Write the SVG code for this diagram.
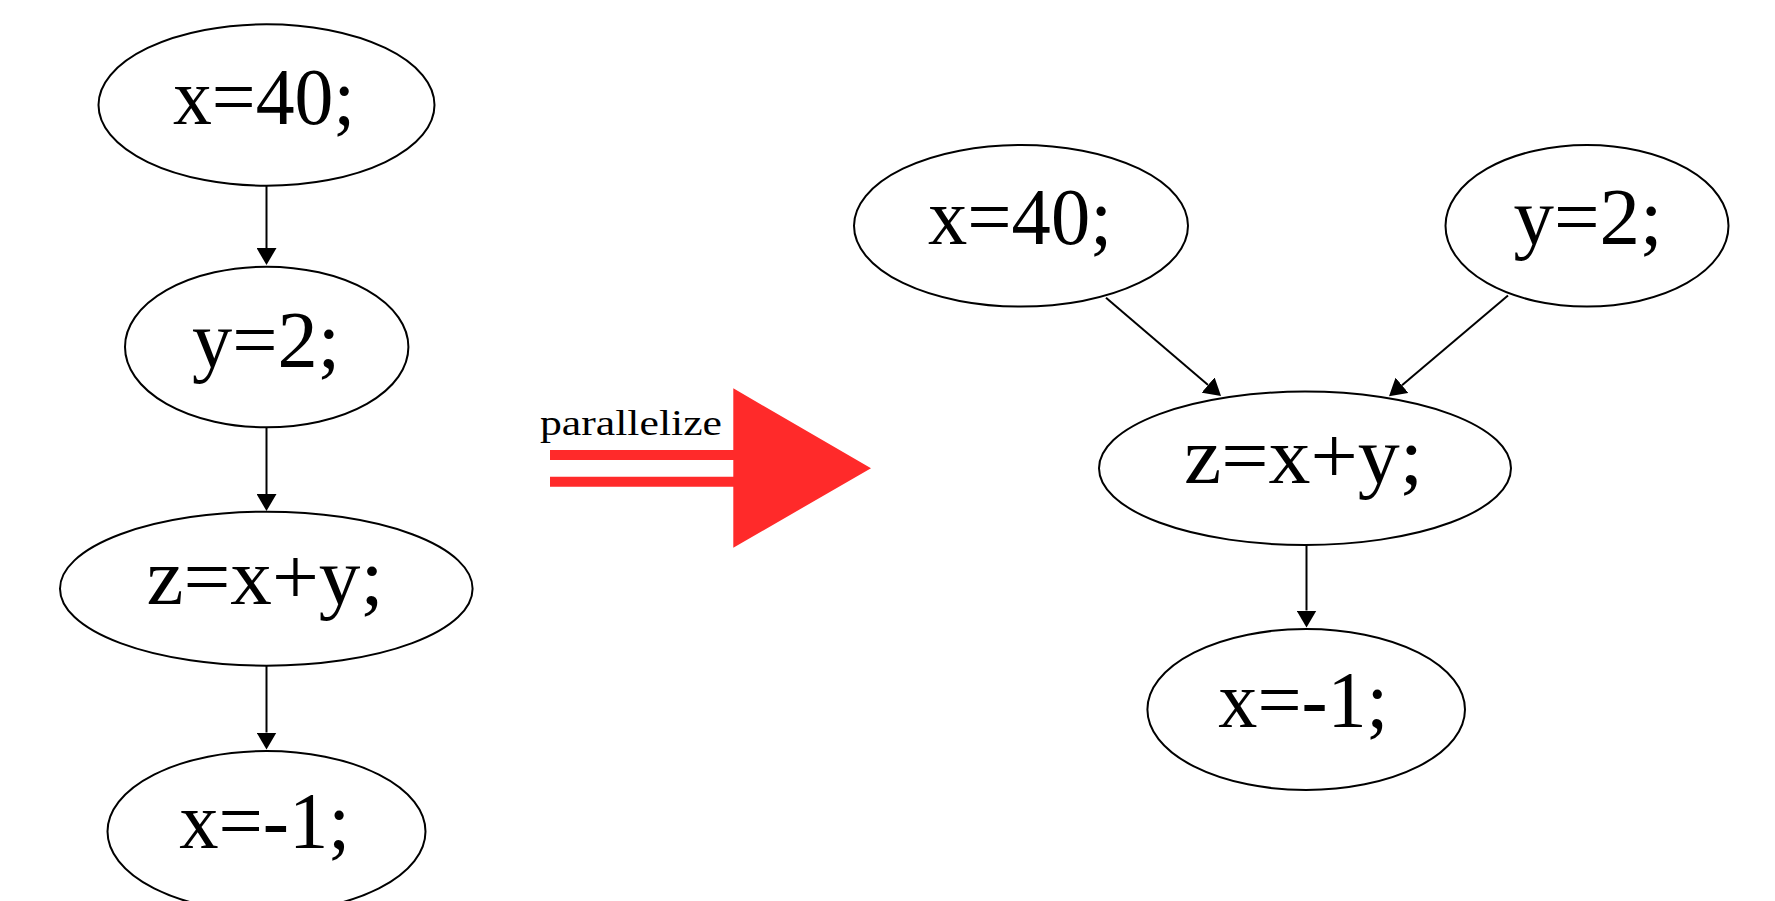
<svg xmlns="http://www.w3.org/2000/svg" width="1775" height="901" viewBox="0 0 1775 901">
  <style>
    .node ellipse { fill: #ffffff; stroke: #000000; stroke-width: 2; }
    .node text { font-family: "Liberation Serif", "DejaVu Serif", serif; font-size: 80px; fill: #000000; text-anchor: middle; }
    .edge { stroke: #000000; stroke-width: 2; fill: none; marker-end: url(#head); }
    .big { fill: #ff2a2a; }
    .label { font-family: "Liberation Serif", "DejaVu Serif", serif; font-size: 36px; fill: #000000; }
  </style>
  <defs>
    <marker id="head" markerUnits="userSpaceOnUse" markerWidth="17" markerHeight="20" viewBox="0 0 17 20" refX="0" refY="10" orient="auto">
      <path d="M0,0 L17,10 L0,20 z" fill="#000000"/>
    </marker>
  </defs>
  <rect width="1775" height="901" fill="#ffffff"/>

  <!-- sequential program (left) -->
  <g id="connectors-seq">
    <line class="edge" x1="266.5" y1="186" x2="266.5" y2="248"/>
    <line class="edge" x1="266.5" y1="428" x2="266.5" y2="494"/>
    <line class="edge" x1="266.5" y1="666" x2="266.5" y2="732.5"/>
  </g>
  <g id="seq-x40" class="node">
    <ellipse cx="266.5" cy="105" rx="168" ry="80.7"/>
    <text x="264" y="124" textLength="182" lengthAdjust="spacingAndGlyphs">x=40;</text>
  </g>
  <g id="seq-y2" class="node">
    <ellipse cx="266.7" cy="347" rx="141.7" ry="80.3"/>
    <text x="266" y="366.7" textLength="148" lengthAdjust="spacingAndGlyphs">y=2;</text>
  </g>
  <g id="seq-zxy" class="node">
    <ellipse cx="266.3" cy="588.7" rx="206.3" ry="77"/>
    <text x="265" y="604" textLength="237" lengthAdjust="spacingAndGlyphs">z=x+y;</text>
  </g>
  <g id="seq-xm1" class="node">
    <ellipse cx="266.5" cy="831.5" rx="159" ry="80.5"/>
    <text x="264.7" y="848.3" textLength="171" lengthAdjust="spacingAndGlyphs">x=-1;</text>
  </g>

  <!-- transformation arrow -->
  <g id="parallelize">
    <path class="big" d="M550,450 H733.3 V388.3 L871,468.3 L733.3,547.7 V486.7 H550 V476.7 H733.3 V460 H550 z"/>
    <text class="label" x="540" y="435" textLength="182" lengthAdjust="spacingAndGlyphs">parallelize</text>
  </g>

  <!-- parallel program (right) -->
  <g id="connectors-par">
    <line class="edge" x1="1106" y1="297.7" x2="1208.1" y2="385"/>
    <line class="edge" x1="1508" y1="295.6" x2="1402" y2="385.3"/>
    <line class="edge" x1="1306.5" y1="545" x2="1306.5" y2="610.5"/>
  </g>
  <g id="par-x40" class="node">
    <ellipse cx="1021" cy="225.8" rx="167" ry="80.8"/>
    <text x="1020" y="244" textLength="184" lengthAdjust="spacingAndGlyphs">x=40;</text>
  </g>
  <g id="par-y2" class="node">
    <ellipse cx="1587" cy="225.8" rx="141.5" ry="80.8"/>
    <text x="1588" y="244" textLength="149" lengthAdjust="spacingAndGlyphs">y=2;</text>
  </g>
  <g id="par-zxy" class="node">
    <ellipse cx="1305" cy="468.3" rx="206" ry="76.7"/>
    <text x="1303.5" y="482.7" textLength="239" lengthAdjust="spacingAndGlyphs">z=x+y;</text>
  </g>
  <g id="par-xm1" class="node">
    <ellipse cx="1306.2" cy="709.5" rx="158.8" ry="80.5"/>
    <text x="1303.3" y="727.3" textLength="170" lengthAdjust="spacingAndGlyphs">x=-1;</text>
  </g>
</svg>
